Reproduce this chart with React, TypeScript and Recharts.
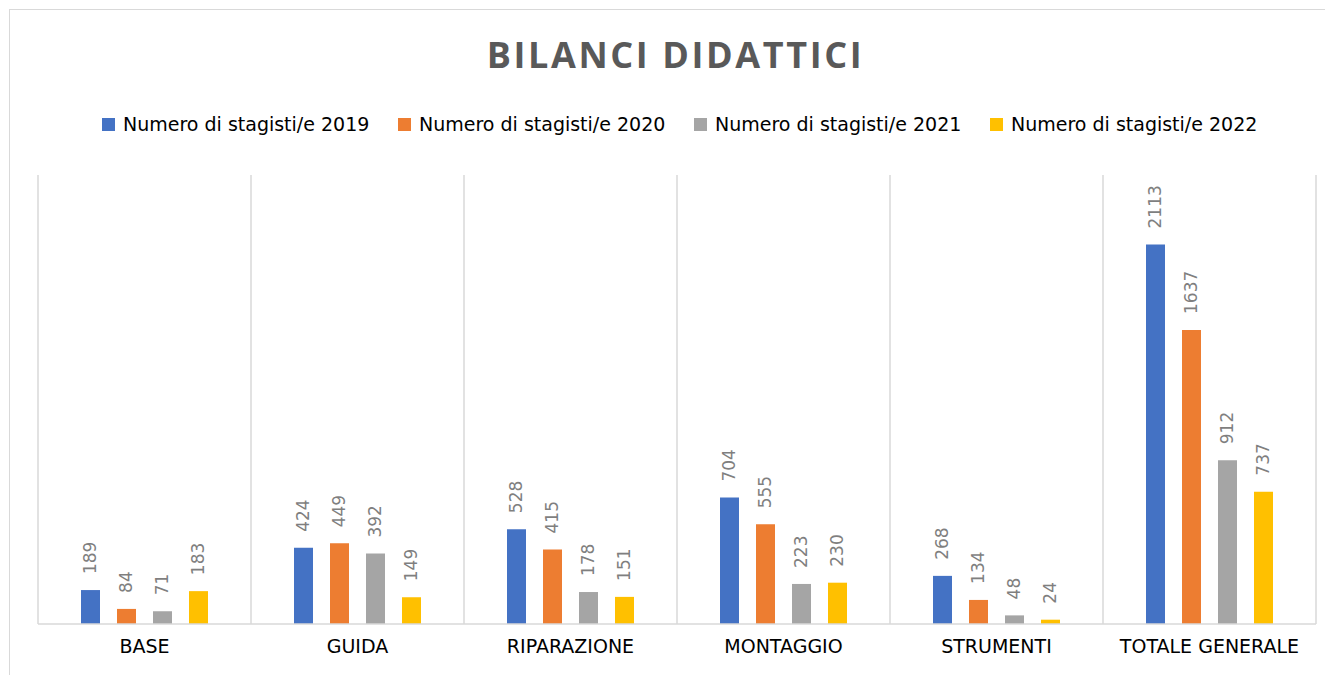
import { BarChart, Bar, XAxis, YAxis, CartesianGrid, LabelList } from "recharts";

const categories = ["BASE", "GUIDA", "RIPARAZIONE", "MONTAGGIO", "STRUMENTI", "TOTALE GENERALE"];
const y2019 = [189, 424, 528, 704, 268, 2113];
const y2020 = [84, 449, 415, 555, 134, 1637];
const y2021 = [71, 392, 178, 223, 48, 912];
const y2022 = [183, 149, 151, 230, 24, 737];

const series = [
  { key: "y2019", name: "Numero di stagisti/e 2019", color: "#4472C4", values: y2019 },
  { key: "y2020", name: "Numero di stagisti/e 2020", color: "#ED7D31", values: y2020 },
  { key: "y2021", name: "Numero di stagisti/e 2021", color: "#A5A5A5", values: y2021 },
  { key: "y2022", name: "Numero di stagisti/e 2022", color: "#FFC000", values: y2022 },
];

const data = categories.map((name, i) => {
  const row: Record<string, string | number> = { name };
  series.forEach((s) => {
    row[s.key] = s.values[i];
  });
  return row;
});

const FONT = "'DejaVu Sans', Verdana, sans-serif";

// rotated value label sitting above each bar
function ValueLabel(props: any) {
  const { x, y, width, value } = props;
  const cx = x + width / 2;
  const cy = y - 16;
  return (
    <text
      x={cx}
      y={cy}
      transform={`rotate(-90, ${cx}, ${cy})`}
      textAnchor="start"
      dominantBaseline="central"
      fill="#7F7F7F"
      fontSize={17}
      fontFamily={FONT}
    >
      {value}
    </text>
  );
}

export default function App() {
  return (
    <div
      style={{
        position: "relative",
        width: 1330,
        height: 670,
        margin: "1px 0 0 1px",
        borderTop: "1px solid #D9D9D9",
        borderLeft: "1px solid #D9D9D9",
        background: "#fff",
        fontFamily: FONT,
      }}
    >
      {/* Title */}
      <div
        style={{
          position: "absolute",
          top: 27,
          left: 0,
          width: 1331,
          textAlign: "center",
          fontFamily: "'Open Sans', sans-serif",
          fontWeight: 700,
          fontSize: 36,
          lineHeight: "36px",
          letterSpacing: 2.6,
          color: "#595959",
        }}
      >
        BILANCI DIDATTICI
      </div>

      {/* Legend */}
      <div
        style={{
          position: "absolute",
          top: 103,
          left: 92,
          display: "flex",
          alignItems: "center",
          fontSize: 19,
          lineHeight: "22px",
          color: "#000",
        }}
      >
        {series.map((s) => (
          <div key={s.key} style={{ display: "flex", alignItems: "center", width: 296 }}>
            <span
              style={{ width: 13, height: 13, background: s.color, marginRight: 8, display: "inline-block" }}
            />
            <span>{s.name}</span>
          </div>
        ))}
      </div>

      <div style={{ position: "absolute", top: 0, left: 0 }}>
        <BarChart
          width={1323}
          height={665}
          data={data}
          margin={{ top: 165, right: 17, left: 28, bottom: 21 }}
          barSize={19}
          barGap={17}
        >
          <CartesianGrid
            horizontal={false}
            stroke="#D9D9D9"
            strokeWidth={1.5}
            verticalCoordinatesGenerator={({ offset }: any) =>
              Array.from(
                { length: categories.length + 1 },
                (_, i) => offset.left + (i * offset.width) / categories.length
              )
            }
          />
          <XAxis
            dataKey="name"
            axisLine={{ stroke: "#D9D9D9", strokeWidth: 1.5 }}
            tickLine={false}
            tickSize={0}
            tickMargin={16}
            interval={0}
            tick={{ fill: "#000", fontSize: 19, fontFamily: FONT }}
          />
          <YAxis hide domain={[0, 2500]} />
          {series.map((s) => (
            <Bar key={s.key} dataKey={s.key} name={s.name} fill={s.color} isAnimationActive={false}>
              <LabelList dataKey={s.key} content={<ValueLabel />} />
            </Bar>
          ))}
        </BarChart>
      </div>
    </div>
  );
}
